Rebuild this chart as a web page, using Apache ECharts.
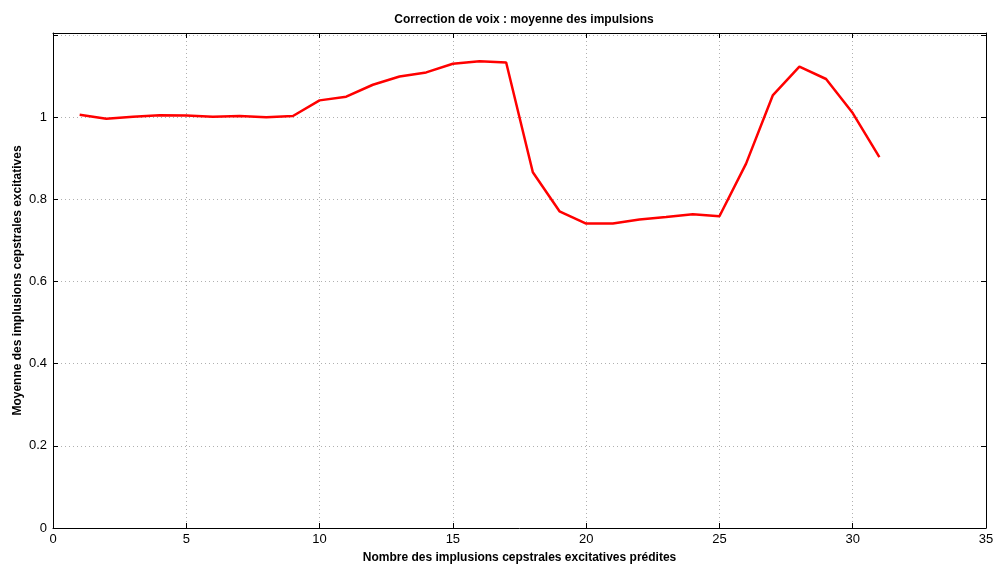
<!DOCTYPE html>
<html><head><meta charset="utf-8">
<script src="https://cdn.jsdelivr.net/npm/echarts@6/dist/echarts.min.js"></script>
<style>html,body{margin:0;padding:0;background:#fff}#c{width:994px;height:565px}</style>
</head><body><div id="c"></div>
<script>
const xValues = [1,2,3,4,5,6,7,8,9,10,11,12,13,14,15,16,17,18,19,20,21,22,23,24,25,26,27,28,29,30,31];
const yValues = [1.006,0.996,1.001,1.005,1.004,1.001,1.003,1.000,1.003,1.041,1.050,1.079,1.099,1.109,1.130,1.136,1.133,0.866,0.771,0.741,0.741,0.751,0.757,0.764,0.759,0.887,1.053,1.123,1.093,1.010,0.903];
const titleText = 'Correction de voix : moyenne des impulsions';
const xName = 'Nombre des implusions cepstrales excitatives prédites';
const yName = 'Moyenne des implusions cepstrales excitatives';

const font = 'Liberation Sans, Arial, Helvetica, sans-serif';
const chart = echarts.init(document.getElementById('c'), null, {renderer:'canvas'});
const split = {show:true, lineStyle:{color:'#b0b0b0', type:[1,3], width:1}};
const tick = {show:true, inside:true, length:5, lineStyle:{color:'#000'}};
const line = {show:true, onZero:false, lineStyle:{color:'#000', width:1}};
chart.setOption({
  animation:false,
  title:{text:titleText, left:519, textAlign:'center', top:9,
    textStyle:{fontFamily:font, fontSize:12, fontWeight:'bold', color:'#000'}},
  grid:{left:53, right:8, top:33, bottom:37, containLabel:false, outerBoundsMode:'none'},
  xAxis:[
    {type:'value', min:0, max:35, interval:5, position:'bottom',
     name:xName, nameLocation:'middle', nameGap:24, nameMoveOverlap:false,
     nameTextStyle:{fontFamily:font, fontSize:12, fontWeight:'bold', color:'#000'},
     axisLine:line, axisTick:tick, splitLine:split,
     axisLabel:{fontFamily:font, fontSize:13, color:'#000', margin:5}},
    {type:'value', min:0, max:35, interval:5, position:'top',
     axisLine:line, axisTick:tick, splitLine:{show:false}, axisLabel:{show:false}}
  ],
  yAxis:[
    {type:'value', min:0, max:1.205, interval:0.2, position:'left',
     name:yName, nameLocation:'middle', nameGap:29, nameMoveOverlap:false,
     nameTextStyle:{fontFamily:font, fontSize:12, fontWeight:'bold', color:'#000'},
     axisLine:line, axisTick:tick, splitLine:split,
     axisLabel:{fontFamily:font, fontSize:13, color:'#000', margin:6,
       formatter:v => v > 1.1 ? '' : String(Math.round(v*10)/10)}},
    {type:'value', min:0, max:1.205, interval:0.2, position:'right',
     axisLine:line, axisTick:tick, splitLine:{show:false}, axisLabel:{show:false}}
  ],
  series:[{type:'line', xAxisIndex:0, yAxisIndex:0, showSymbol:false, symbol:'none',
    data:xValues.map((x,i)=>[x,yValues[i]]),
    lineStyle:{color:'#ff0000', width:2.5}}]
});
</script></body></html>
